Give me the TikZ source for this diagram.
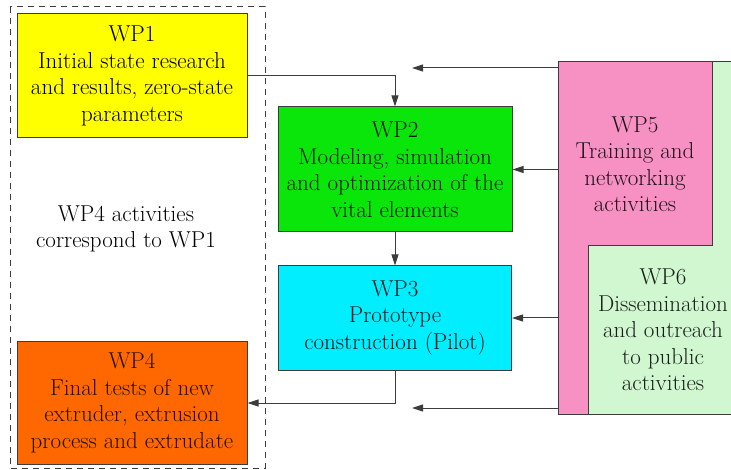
\documentclass[tikz,border=0pt]{standalone}
\usepackage{tikz}
\usetikzlibrary{arrows.meta,calc}

\definecolor{wpyellow}{RGB}{255,255,0}
\definecolor{wpgreen}{RGB}{10,230,10}
\definecolor{wpcyan}{RGB}{0,238,255}
\definecolor{wporange}{RGB}{255,104,0}
\definecolor{wppink}{RGB}{247,145,196}
\definecolor{wplight}{RGB}{208,247,208}
\definecolor{wpline}{RGB}{60,60,60}

\begin{document}
\begin{tikzpicture}[x=1pt,y=-1pt,
  font=\rmfamily\fontsize{23}{26.5}\selectfont,
  wpbox/.style={draw=wpline,line width=1pt,align=center,inner sep=0pt},
  wplink/.style={-{Stealth[length=11pt,width=7pt,inset=0pt]},line width=1pt,draw=wpline}]
\useasboundingbox (0,0) rectangle (731,470);

%group of WP1 and WP4
\draw[dashed,dash pattern=on 6pt off 5pt,line width=1pt,wpline] (10,7) rectangle (265,468);

%work packages
\node[wpbox,fill=wpyellow,text=black,minimum width=230pt,minimum height=124pt] (wp1) at (132,76)
  {WP1\\Initial state research\\and results, zero-state\\parameters};
\node[wpbox,fill=wpgreen,text=wpgreen!12!black,minimum width=234pt,minimum height=125pt] (wp2) at (395,169.5)
  {WP2\\Modeling, simulation\\and optimization of the\\vital elements};
\node[wpbox,fill=wpcyan,text=wpcyan!12!black,minimum width=233pt,minimum height=104pt] (wp3) at (395,318)
  {WP3\\Prototype\\construction (Pilot)};
\node[wpbox,fill=wporange,text=wporange!15!black,minimum width=230pt,minimum height=122pt] (wp4) at (132,403)
  {WP4\\Final tests of new\\extruder, extrusion\\process and extrudate};
\node[align=center,text=black] (note) at (126,229) {WP4 activities\\correspond to WP1};

%WP5 and WP6 blocks
\filldraw[fill=wplight,draw=wpline,line width=1pt] (588,246) -- (712,246) -- (712,62) -- (745,62)
  -- (745,414) -- (588,414) -- cycle;
\filldraw[fill=wppink,draw=wpline,line width=1pt] (558,62) -- (712,62) -- (712,246) -- (588,246)
  -- (588,414) -- (558,414) -- cycle;
\node[align=center,text=wppink!12!black] (wp5) at (635,164)
  {WP5\\Training and\\networking\\activities};
\node[align=center,text=wplight!12!black] (wp6) at (663,330)
  {WP6\\Dissemination\\and outreach\\to public\\activities};

\coordinate (t5) at (558,68);
\coordinate (t5end) at (412,68);
\coordinate (b5) at (558,408);
\coordinate (b5end) at (412,408);
\coordinate (s2) at (558,169.5);
\coordinate (s3) at (558,318);

%links
\draw[wplink] (wp1.east) -| (wp2.north);
\draw[wplink] (wp2.south) -- (wp3.north);
\draw[wplink] (wp3.south) |- (wp4.east);
\draw[wplink] (s2) -- (wp2.east);
\draw[wplink] (s3) -- (wp3.east);
\draw[wplink] (t5) -- (t5end);
\draw[wplink] (b5) -- (b5end);
\end{tikzpicture}
\end{document}
